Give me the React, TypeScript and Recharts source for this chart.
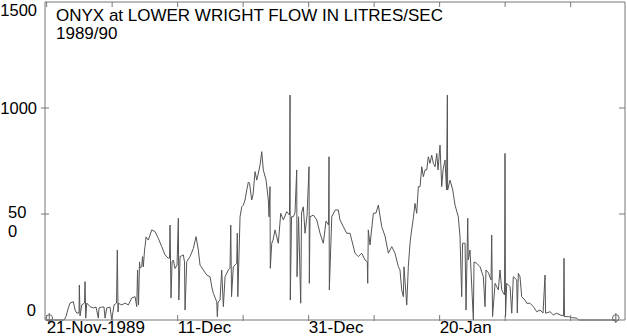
import React from "react";
import { LineChart, Line, XAxis, YAxis, ReferenceLine, ReferenceDot } from "recharts";

// Days since 21-Nov-1989
const days: number[] = [
  0, 2.66, 2.96, 3.31, 3.57, 4.08, 4.34, 4.6, 4.95, 4.99, 5.1, 5.36, 5.79, 5.86, 5.97, 6.12, 6.63, 7.13, 7.54, 7.89,
  8.0, 8.41, 8.76, 8.92, 9.18, 9.68, 9.94, 10.29, 10.67, 10.79, 10.9, 10.95, 11.47, 11.97, 12.47, 12.99, 13.5, 13.76, 13.88, 14.03,
  14.18, 14.26, 14.52, 14.64, 14.76, 14.95, 15.02, 15.18, 15.53, 16.05, 16.55, 17.05, 17.57, 18.08, 18.58, 18.76, 18.84, 18.99, 19.15, 19.34,
  19.6, 19.91, 20.11, 20.18, 20.37, 20.87, 21.05, 21.13, 21.39, 21.89, 22.4, 22.81, 23.16, 23.42, 23.92, 24.44, 24.95, 25.21, 25.45, 25.97,
  26.06, 26.17, 26.47, 26.73, 26.98, 27.24, 27.74, 28.0, 28.11, 28.23, 28.5, 29.02, 29.11, 29.19, 29.53, 29.79, 30.03, 30.29, 30.55, 30.8,
  30.98, 31.31, 31.51, 31.82, 32.08, 32.32, 32.58, 32.84, 33.08, 33.5, 33.85, 33.95, 34.1, 34.15, 34.37, 34.56, 34.87, 35.37, 35.74, 36.14,
  36.66, 37.08, 37.16, 37.2, 37.39, 37.66, 37.92, 38.18, 38.23, 38.46, 38.79, 38.92, 39.19, 39.45, 39.76, 40.06, 40.11, 40.21, 40.72, 41.24,
  41.74, 42.24, 42.66, 43.04, 43.11, 43.16, 43.53, 44.05, 44.53, 44.79, 45.3, 45.82, 46.32, 46.58, 47.08, 47.59, 48.11, 48.61, 48.96, 49.02,
  49.11, 49.37, 49.88, 50.29, 50.64, 51.16, 51.66, 52.17, 52.69, 53.19, 53.7, 53.95, 54.21, 54.46, 54.56, 54.98, 55.22, 55.48, 55.59, 55.98,
  56.24, 56.5, 56.75, 57.01, 57.27, 57.51, 57.77, 58.03, 58.27, 58.53, 58.79, 59.04, 59.3, 59.56, 59.76, 60.06, 60.32, 60.52, 60.82, 61.05,
  61.18, 61.22, 61.59, 62.0, 62.35, 62.85, 63.11, 63.37, 63.5, 63.88, 64.03, 64.29, 64.37, 64.64, 65.15, 65.25, 65.66, 66.17, 66.67, 66.93,
  67.08, 67.44, 67.85, 67.95, 68.08, 68.46, 68.96, 69.22, 69.48, 69.91, 69.98, 70.06, 70.24, 70.75, 71.01, 71.25, 71.77, 71.86, 72.01, 72.27,
  72.53, 73.03, 73.3, 73.8, 74.31, 74.82, 75.33, 75.79, 76.09, 76.17, 76.86, 77.36, 77.88, 78.38, 78.92, 78.99, 79.06, 79.65, 80.17, 80.93,
  81.21, 86.9,
];

// Flow in litres/sec
const flow: number[] = [
  0, 0, 16, 57, 80, 86, 47, 33, 33, 165, 19, 71, 80, 181, 9, 80, 63, 57, 61, 9,
  57, 61, 61, 9, 57, 61, 0, 71, 80, 330, 38, 79, 71, 80, 71, 104, 110, 63, 236, 71,
  274, 245, 251, 299, 251, 330, 346, 392, 377, 425, 417, 385, 346, 307, 291, 292, 448, 104, 274, 283,
  243, 259, 480, 94, 299, 307, 274, 47, 275, 299, 338, 393, 330, 259, 236, 212, 204, 157, 126, 86,
  16, 85, 94, 236, 63, 204, 236, 245, 448, 110, 251, 267, 410, 110, 487, 534, 542, 566, 613, 651,
  645, 566, 590, 700, 660, 692, 731, 794, 708, 660, 566, 487, 629, 244, 362, 377, 425, 362, 503, 472,
  511, 495, 1061, 94, 487, 487, 505, 708, 204, 487, 79, 505, 534, 409, 495, 723, 173, 487, 495, 472,
  409, 362, 467, 448, 770, 142, 487, 519, 519, 472, 440, 409, 409, 377, 315, 299, 315, 283, 274, 173,
  425, 354, 503, 505, 542, 440, 396, 315, 346, 315, 251, 236, 142, 110, 251, 71, 251, 362, 393, 480,
  550, 503, 629, 629, 723, 676, 708, 708, 770, 739, 778, 739, 723, 786, 708, 825, 629, 708, 755, 613,
  1061, 613, 660, 613, 542, 487, 393, 110, 362, 362, 47, 480, 283, 330, 0, 274, 267, 251, 204, 63,
  236, 223, 189, 401, 16, 173, 142, 236, 142, 118, 786, 14, 173, 157, 32, 204, 189, 33, 220, 204,
  110, 94, 79, 79, 63, 39, 47, 33, 212, 32, 39, 24, 32, 24, 19, 291, 16, 16, 11, 9,
  0, 0,
];

const xTicks: number[] = [0, 10, 20, 30, 40, 50, 60, 70, 80];
const xTickLabels: Record<number, string> = { 0: "21-Nov-1989", 20: "11-Dec", 40: "31-Dec", 60: "20-Jan" };
const yTicks: number[] = [0, 500, 1000, 1500];
const markerDays: number[] = [0.4, 86.9];

const title = "ONYX at LOWER WRIGHT FLOW IN LITRES/SEC";
const subtitle = "1989/90";

const X_MIN = -0.25;
const X_MAX = 88.3;
const PLOT_TOP = 2;
const PLOT_RIGHT = 625;
const AXIS = "#777";
const FONT = "'Liberation Sans', Arial, sans-serif";

const data = days.map((d, i) => ({ day: d, flow: flow[i] }));

const XTick = (props: any) => {
  const { x, y, payload } = props;
  const label = xTickLabels[payload.value];
  return (
    <g>
      <line x1={x} y1={y - 5} x2={x} y2={y + 1} stroke={AXIS} />
      <line x1={x} y1={PLOT_TOP} x2={x} y2={PLOT_TOP + 5} stroke={AXIS} />
      {label ? (
        <text x={x} y={y + 13} textAnchor="start" fontSize={17} fontFamily={FONT} fill="#000">
          {label}
        </text>
      ) : null}
    </g>
  );
};

const YTick = (props: any) => {
  const { x, y, payload } = props;
  const v = payload.value;
  let label: React.ReactNode = null;
  if (v === 1500) {
    label = (
      <text x={x - 8} y={y + 14} textAnchor="end" fontSize={16.5} fontFamily={FONT} fill="#000">1500</text>
    );
  } else if (v === 1000) {
    label = (
      <text x={x - 8} y={y + 6} textAnchor="end" fontSize={16.5} fontFamily={FONT} fill="#000">1000</text>
    );
  } else if (v === 500) {
    label = (
      <text x={8} y={y + 4} textAnchor="start" fontSize={16.5} fontFamily={FONT} fill="#000">
        <tspan x={8}>50</tspan>
        <tspan x={8} dy={19}>0</tspan>
      </text>
    );
  } else if (v === 0) {
    label = (
      <text x={x - 9} y={y - 4} textAnchor="end" fontSize={16.5} fontFamily={FONT} fill="#000">0</text>
    );
  }
  const showTick = v !== 0 && v !== 1500;
  return (
    <g>
      {showTick ? <line x1={x - 4} y1={y} x2={x + 4} y2={y} stroke={AXIS} /> : null}
      {showTick ? <line x1={PLOT_RIGHT - 6} y1={y} x2={PLOT_RIGHT} y2={y} stroke={AXIS} /> : null}
      {label}
    </g>
  );
};

const Marker = (props: any) => {
  const { cx, cy } = props;
  return (
    <g>
      <circle cx={cx} cy={cy - 2} r={3.3} fill="none" stroke="#666" strokeWidth={1} />
      <line x1={cx} y1={cy - 7} x2={cx} y2={cy + 3} stroke="#666" strokeWidth={1} />
    </g>
  );
};

export default function App() {
  return (
    <div style={{ position: "absolute", left: 0, top: 0, width: 627, height: 336, background: "#fff" }}>
      <LineChart width={627} height={336} data={data} margin={{ top: 2, right: 2, left: 0, bottom: 0 }}>
        <XAxis
          dataKey="day"
          type="number"
          domain={[X_MIN, X_MAX]}
          ticks={xTicks}
          interval={0}
          allowDataOverflow
          height={16}
          tickSize={0}
          tickMargin={0}
          tickLine={false}
          axisLine={{ stroke: AXIS }}
          tick={<XTick />}
        />
        <YAxis
          type="number"
          domain={[0, 1500]}
          ticks={yTicks}
          interval={0}
          width={45}
          tickSize={0}
          tickMargin={0}
          tickLine={false}
          axisLine={{ stroke: AXIS }}
          tick={<YTick />}
        />
        <ReferenceLine y={1500} stroke={AXIS} />
        <ReferenceLine x={X_MAX} stroke={AXIS} />
        <Line
          type="linear"
          dataKey="flow"
          stroke="#555"
          strokeWidth={1}
          dot={false}
          isAnimationActive={false}
        />
        {markerDays.map((d) => (
          <ReferenceDot key={d} x={d} y={0} r={3} ifOverflow="visible" shape={<Marker />} />
        ))}
      </LineChart>
      <div
        style={{
          position: "absolute",
          left: 56,
          top: 7,
          fontFamily: FONT,
          fontSize: 17,
          lineHeight: "18px",
          color: "#000",
          whiteSpace: "pre",
        }}
      >
        {title}
        {"\n"}
        {subtitle}
      </div>
    </div>
  );
}
